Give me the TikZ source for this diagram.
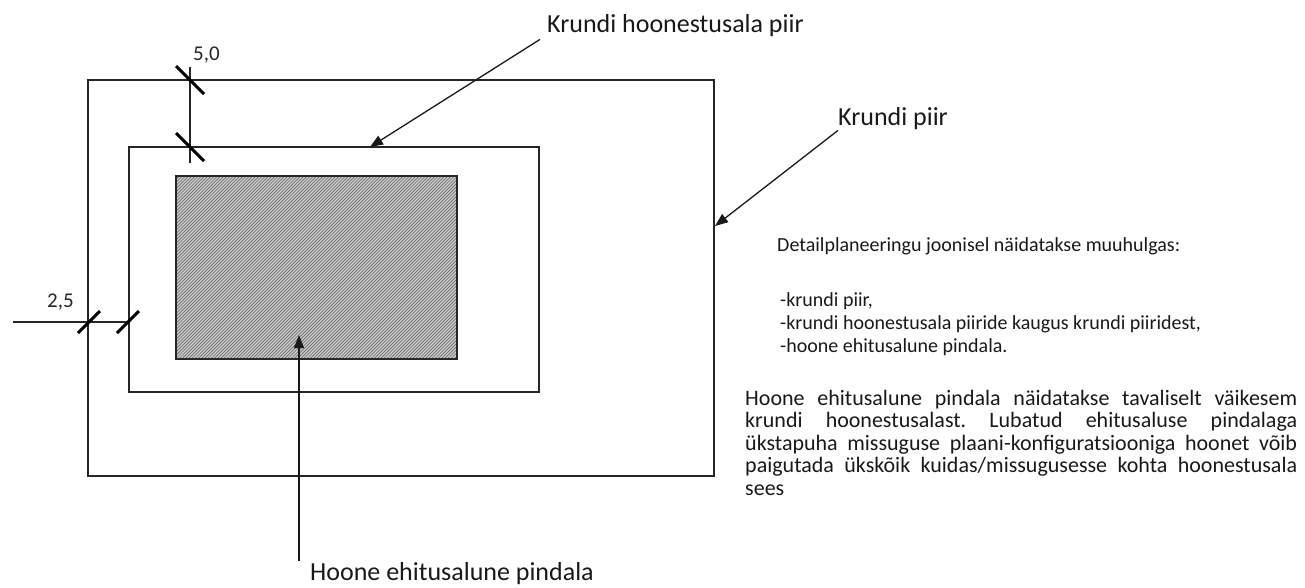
\documentclass[tikz,border=0pt]{standalone}
\usepackage{fontspec}
\setmainfont{Carlito}
\usetikzlibrary{arrows.meta}
\frenchspacing
\begin{document}
\begin{tikzpicture}[x=1pt,y=-1pt,
  outline/.style={line width=1.8pt, draw=black!85},
  dimline/.style={line width=1.4pt, draw=black!85},
  dimtick/.style={line width=3pt, draw=black, line cap=butt},
  leader/.style={line width=1.3pt, draw=black!90, -{Triangle[length=13pt,width=10pt]}},
  tagtext/.style={inner sep=0pt, anchor=base west, text=black!90, font=\fontsize{26}{30}\selectfont},
  dimtext/.style={inner sep=0pt, anchor=base west, text=black!85, font=\fontsize{21}{24}\selectfont},
  notetext/.style={inner sep=0pt, anchor=base west, text=black!90}
]
\useasboundingbox (0,0) rectangle (1305,587);

% corners of the three outlines: lot, building zone, building footprint
\coordinate (lotNW) at (88,80);    \coordinate (lotSE) at (714,476);
\coordinate (zoneNW) at (129,147); \coordinate (zoneSE) at (539,392);
\coordinate (bldNW) at (176,176);  \coordinate (bldSE) at (457,359);

% hatched footprint
\begin{scope}
  \clip (bldNW) rectangle (bldSE);
  \fill[black!18] (bldNW) rectangle (bldSE);
  \foreach \i in {0,3.2,...,470}
    \draw[black!55, line width=0.8pt] ({\i-7},359) -- ({\i+176},176);
\end{scope}
\draw[outline] (bldNW) rectangle (bldSE);
\draw[outline] (zoneNW) rectangle (zoneSE);
\draw[outline] (lotNW) rectangle (lotSE);

% vertical offset dimension (5,0)
\coordinate (vTop) at (190,67);  \coordinate (vBot) at (190,163);
\coordinate (vA) at (190,80);    \coordinate (vB) at (190,147);
\draw[dimline] (vTop) -- (vBot);
\draw[dimtick] ([shift={(-14,-14)}]vA) -- ([shift={(14,14)}]vA);
\draw[dimtick] ([shift={(-14,-14)}]vB) -- ([shift={(14,14)}]vB);
\node[dimtext] (dimV) at (193,60) {5,0};

% horizontal offset dimension (2,5)
\coordinate (hLeft) at (13,322); \coordinate (hRight) at (129,322);
\coordinate (hA) at (89,322);    \coordinate (hB) at (128,322);
\draw[dimline] (hLeft) -- (hRight);
\draw[dimtick] ([shift={(-11,11)}]hA) -- ([shift={(11,-11)}]hA);
\draw[dimtick] ([shift={(-11,11)}]hB) -- ([shift={(11,-11)}]hB);
\node[dimtext] (dimH) at (47,307) {2,5};

% callouts
\node[tagtext] (zoneLabel) at (547,32) {Krundi hoonestusala piir};
\coordinate (zoneTip) at (370,147);
\draw[leader] ([xshift=-7pt,yshift=-3pt]zoneLabel.south west) -- (zoneTip);

\node[tagtext] (lotLabel) at (838,125) {Krundi piir};
\coordinate (lotTip) at (715,226);
\draw[leader] ([yshift=-1pt]lotLabel.south west) -- (lotTip);

\node[tagtext] (bldLabel) at (310,580) {Hoone ehitusalune pindala};
\coordinate (bldTail) at (299,561);
\coordinate (bldTip) at (299,335);
\draw[leader] (bldTail) -- (bldTip);

% explanatory notes
\node[notetext, font=\fontsize{20}{23}\selectfont] (noteHead) at (777,251)
  {Detailplaneeringu joonisel näidatakse muuhulgas:};
\node[notetext] (noteList) at (780,306)
  {\parbox[t]{500pt}{\fontsize{20}{23}\selectfont
   -krundi piir,\\
   -krundi hoonestusala piiride kaugus krundi piiridest,\\
   -hoone ehitusalune pindala.}};
\node[notetext] (notePara) at (745,405)
  {\parbox[t]{552pt}{\fontsize{22}{22.6}\selectfont
   \makebox[\linewidth][s]{Hoone ehitusalune pindala näidatakse tavaliselt väikesem}\\
   \makebox[\linewidth][s]{krundi hoonestusalast. Lubatud ehitusaluse pindalaga}\\
   \makebox[\linewidth][s]{ükstapuha missuguse plaani-konfiguratsiooniga hoonet võib}\\
   \makebox[\linewidth][s]{paigutada ükskõik kuidas/missugusesse kohta hoonestusala}\\
   sees}};
\end{tikzpicture}
\end{document}
